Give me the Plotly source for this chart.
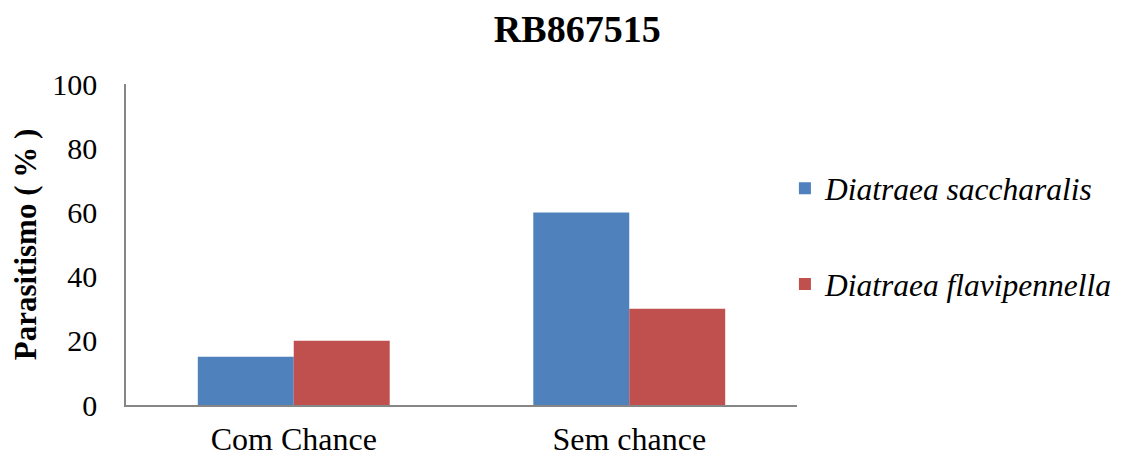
import plotly.graph_objects as go

categories = ["Com Chance", "Sem chance"]
series_names = ["Diatraea saccharalis", "Diatraea flavipennella"]
saccharalis = [15, 60]
flavipennella = [20, 30]
colors = ["#4F81BD", "#C0504D"]
y_ticks = [0, 20, 40, 60, 80, 100]

font_family = "Liberation Serif, Times New Roman, serif"

fig = go.Figure()
for name, vals, col, grp in zip(series_names, [saccharalis, flavipennella], colors, ["a", "b"]):
    fig.add_trace(go.Bar(
        x=categories, y=vals, name=f"<i>{name}</i>", marker_color=col,
        marker_line_width=0, legendgroup=grp,
    ))

# page is shown with an 8px body margin, so the figure is 8px smaller
fig.update_layout(
    width=1114, height=449,
    barmode="group", bargap=0.428, bargroupgap=0,
    paper_bgcolor="white", plot_bgcolor="white",
    margin=dict(l=118, r=325, t=76, b=52, autoexpand=False),
    font=dict(family=font_family, color="black"),
    title=dict(text="<b>RB867515</b>", x=0.511, xanchor="center", y=0.955, yanchor="middle",
               xref="container", yref="container",
               font=dict(size=38, family=font_family, color="black")),
    legend=dict(x=0.982, xanchor="left", y=0.526, yanchor="middle",
                font=dict(size=31.5, family=font_family, color="black"),
                traceorder="grouped", tracegroupgap=52, bgcolor="rgba(0,0,0,0)"),
    showlegend=True,
)
fig.update_yaxes(
    range=[0, 100], tickvals=y_ticks, showgrid=False, zeroline=False, automargin=False,
    showline=True, linecolor="#868686", linewidth=1.5,
    ticks="outside", ticklen=21, tickcolor="rgba(0,0,0,0)",
    tickfont=dict(size=30, family=font_family, color="black"),
    title=dict(text="<b>Parasitismo ( % )</b>", standoff=8,
               font=dict(size=31, family=font_family, color="black")),
)
fig.update_xaxes(
    showgrid=False, showline=True, linecolor="#868686", linewidth=1.5, automargin=False,
    ticks="outside", ticklen=5, tickcolor="rgba(0,0,0,0)",
    tickfont=dict(size=32, family=font_family, color="black"),
)

fig.write_html("out.html")
